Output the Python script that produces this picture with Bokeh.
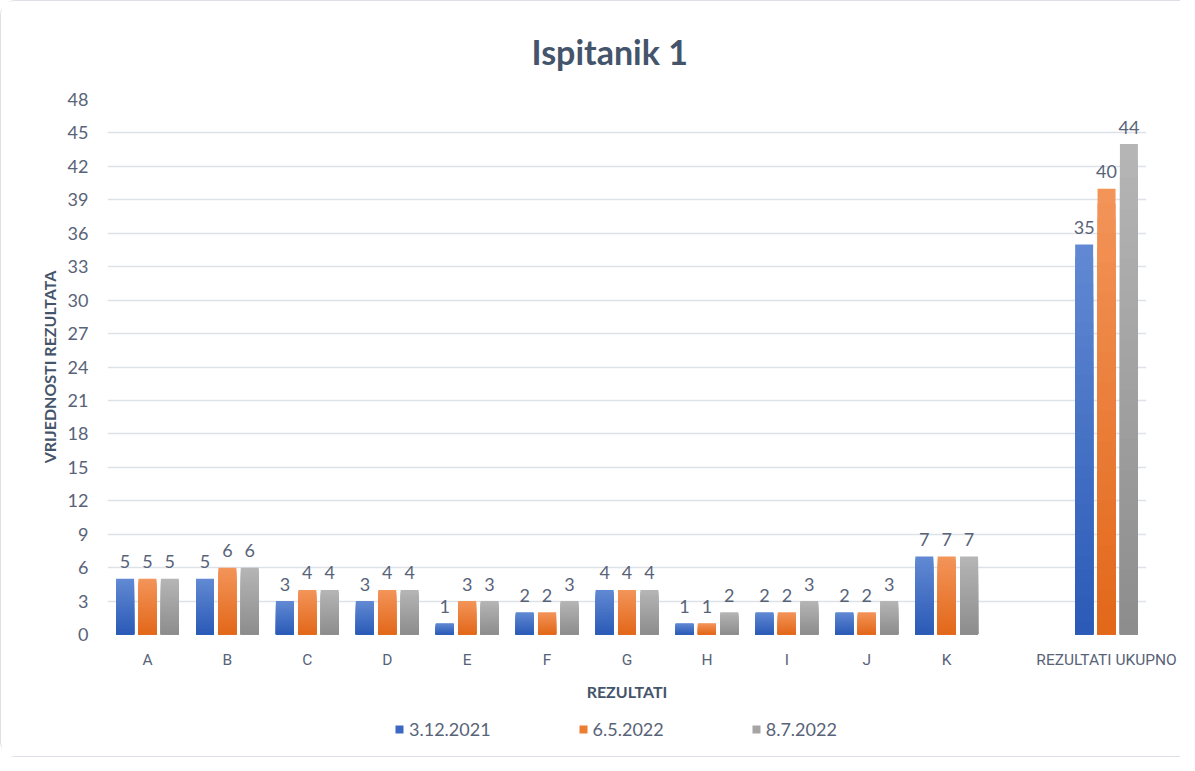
from bokeh.plotting import figure
from bokeh.layouts import column
from bokeh.models import ColumnDataSource, FactorRange, Range1d, FixedTicker, Legend, LegendItem
from bokeh.transform import dodge
from bokeh.core.properties import value
from bokeh.embed import file_html
from bokeh.resources import INLINE

# ---- data ----
categories = ["A", "B", "C", "D", "E", "F", "G", "H", "I", "J", "K", "REZULTATI UKUPNO"]
series_names = ["3.12.2021", "6.5.2022", "8.7.2022"]
s_2021_12_03 = [5, 5, 3, 3, 1, 2, 4, 1, 2, 2, 7, 35]
s_2022_05_06 = [5, 6, 4, 4, 3, 2, 4, 1, 2, 2, 7, 40]
s_2022_07_08 = [5, 6, 4, 4, 3, 3, 4, 2, 3, 3, 7, 44]
y_ticks = list(range(0, 49, 3))

series_values = [s_2021_12_03, s_2022_05_06, s_2022_07_08]

# x factors: an empty slot between K and the totals (as in the original)
x_factors = categories[:-1] + [" "] + categories[-1:]

FONT = "Lato"
XFONT = "Roboto"
TXT = "#44546A"
TICK = "#586378"

grad = [("#6189d3", "#2b5bb7"), ("#f39459", "#e2681a"), ("#b5b5b5", "#8d8d8d")]
swatch = ["#3b68c2", "#ed7d31", "#a5a5a5"]
offsets = [-0.28, 0.0, 0.28]
BAR_W = 0.225
N = 30


def hx(c):
    return tuple(int(c[i:i + 2], 16) for i in (1, 3, 5))


def mix(a, b, t):
    ca, cb = hx(a), hx(b)
    return "#%02x%02x%02x" % tuple(round(ca[i] + (cb[i] - ca[i]) * t) for i in range(3))


p = figure(
    width=1179, height=705,
    x_range=FactorRange(factors=x_factors),
    y_range=Range1d(0, 48),
    output_backend="svg", toolbar_location=None,
    min_border_left=106, min_border_right=34, min_border_top=97, min_border_bottom=72,
)
p.background_fill_color = "white"
p.border_fill_color = "white"
p.outline_line_color = None

p.title.text = "Ispitanik 1"
p.title.align = "left"
p.title.offset = 424
p.title.text_font = FONT
p.title.text_font_style = "bold"
p.title.text_font_size = "34px"
p.title.text_color = TXT
p.title.standoff = 55

p.xgrid.grid_line_color = None
p.ygrid.grid_line_color = "#dde2e8"
p.ygrid.grid_line_width = 1.5

p.yaxis.ticker = FixedTicker(ticks=y_ticks)
for ax in (p.xaxis[0], p.yaxis[0]):
    ax.axis_line_color = None
    ax.major_tick_line_color = None
    ax.minor_tick_line_color = None
    ax.major_label_text_font = FONT
    ax.major_label_text_font_size = "18px"
    ax.major_label_text_color = TICK
    ax.axis_label_text_font = FONT
    ax.axis_label_text_font_style = "bold"
    ax.axis_label_text_font_size = "16px"
    ax.axis_label_text_color = TXT

p.xaxis.major_label_text_font = XFONT
p.xaxis.major_label_text_font_size = "15.5px"
p.yaxis.axis_label = "VRIJEDNOSTI REZULTATA"
p.yaxis.major_label_standoff = 13
p.yaxis.axis_label_standoff = 6
p.xaxis.axis_label = "REZULTATI"
p.xaxis.major_label_standoff = 10
p.xaxis.axis_label_standoff = 10

for si, (name, vals) in enumerate(zip(series_names, series_values)):
    top_c, bot_c = grad[si]
    for k in range(N):
        frac = 1 - k / N
        src = ColumnDataSource(dict(cat=categories, top=[v * frac for v in vals]))
        p.vbar(x=dodge("cat", offsets[si], range=p.x_range), top="top", bottom=0,
               width=BAR_W, source=src, fill_color=mix(top_c, bot_c, k / (N - 1)),
               line_color=None)
    lab_src = ColumnDataSource(dict(cat=categories, val=vals, label=[str(v) for v in vals]))
    p.text(x=dodge("cat", offsets[si], range=p.x_range), y="val", text="label", source=lab_src,
           text_font=value(FONT), text_font_size="18px", text_color=TICK,
           text_align="center", text_baseline="alphabetic", y_offset=-17)

# ---- legend strip below the chart ----
pl = figure(width=1179, height=50, x_range=Range1d(0, 1), y_range=Range1d(0, 1),
            output_backend="svg", toolbar_location=None,
            x_axis_location=None, y_axis_location=None,
            min_border_left=0, min_border_right=0, min_border_top=0, min_border_bottom=0)
pl.outline_line_color = None
pl.grid.visible = False
pl.background_fill_color = "white"
pl.border_fill_color = "white"

legend_items = []
for si, name in enumerate(series_names):
    r = pl.quad(left=[-5], right=[-4], bottom=[-5], top=[-4],
                fill_color=swatch[si], line_color=None)
    legend_items.append(LegendItem(label=name, renderers=[r]))

legend = Legend(items=legend_items, orientation="horizontal", location=(287, 16),
                glyph_width=10, glyph_height=10, label_standoff=5, spacing=87,
                padding=0, margin=0, border_line_color=None, background_fill_alpha=0,
                label_text_font=FONT, label_text_font_size="18px", label_text_color=TICK,
                label_height=20)
pl.add_layout(legend, "center")

layout = column(p, pl, spacing=0)
layout.styles = {"border-left": "1px solid #dde1e7", "border-top": "1px solid #dde1e7",
                 "border-bottom": "1px solid #dde1e7", "border-radius": "16px 0 0 16px"}
open("out.html", "w").write(file_html(layout, INLINE))
